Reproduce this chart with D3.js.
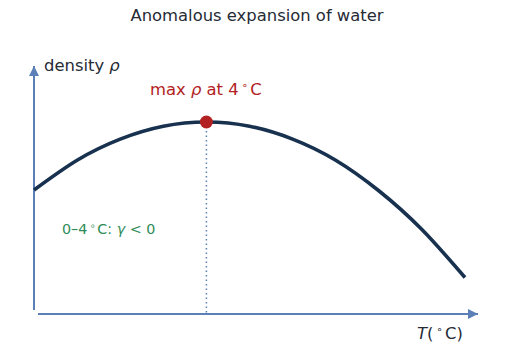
<!DOCTYPE html>
<html><head><meta charset="utf-8">
<script src="https://cdn.jsdelivr.net/npm/d3@7"></script>
<style>body{margin:0;background:#fff}svg{font-family:"DejaVu Sans",sans-serif}</style>
</head><body>
<svg id="c" width="515" height="363"></svg>
<script>
const temps = [0,1,2,3,4,5,6,7,8,9,10];
const density = [0.646,0.801,0.911,0.978,1.0,0.978,0.911,0.801,0.642,0.44,0.19];
const maxT = 4, maxRho = 1.0;
const title = "Anomalous expansion of water";

const svg = d3.select("#c");
const x = d3.scaleLinear().domain([0,10]).range([34,465]);
const y = d3.scaleLinear().domain([0,1]).range([314,122]);
const axisColor = "#5b80b8";

svg.append("defs").append("marker").attr("id","ah").attr("viewBox","0 0 10 10")
  .attr("refX",10).attr("refY",5).attr("markerWidth",12).attr("markerHeight",10)
  .attr("markerUnits","userSpaceOnUse").attr("orient","auto")
  .append("path").attr("d","M0,0L10,5L0,10Z").attr("fill",axisColor);

svg.append("line").attr("x1",34).attr("y1",310).attr("x2",34).attr("y2",66)
  .attr("stroke",axisColor).attr("stroke-width",2).attr("marker-end","url(#ah)");
svg.append("line").attr("x1",38).attr("y1",314).attr("x2",478).attr("y2",314)
  .attr("stroke",axisColor).attr("stroke-width",2).attr("marker-end","url(#ah)");

svg.append("line").attr("x1",x(maxT)).attr("x2",x(maxT)).attr("y1",y(maxRho)).attr("y2",314)
  .attr("stroke",axisColor).attr("stroke-width",1.5).attr("stroke-dasharray","1.5,3");

const line = d3.line().x((d,i)=>x(temps[i])).y(d=>y(d)).curve(d3.curveNatural);
svg.append("path").datum(density).attr("d",line).attr("fill","none")
  .attr("stroke","#17314f").attr("stroke-width",3.6);

svg.append("circle").attr("cx",x(maxT)).attr("cy",y(maxRho)).attr("r",6.5).attr("fill","#b22222");

svg.append("text").attr("x",257).attr("y",21).attr("text-anchor","middle")
  .attr("font-size",16.4).attr("fill","#262b36").text(title);

const t1 = svg.append("text").attr("x",44).attr("y",71).attr("font-size",16.4).attr("fill","#262b36");
t1.append("tspan").text("density ");
t1.append("tspan").attr("font-style","italic").text("ρ");

const t2 = svg.append("text").attr("x",150).attr("y",95).attr("font-size",16.4).attr("fill","#b22222");
t2.append("tspan").text("max ");
t2.append("tspan").attr("font-style","italic").text("ρ");
t2.append("tspan").text(" at 4");
t2.append("tspan").attr("font-size",10.5).attr("dy",-6.5).attr("dx",3).text("∘");
t2.append("tspan").attr("dy",6.5).attr("dx",2).text("C");

const t3 = svg.append("text").attr("x",62).attr("y",234).attr("font-size",14.3).attr("fill","#2e8b57");
t3.append("tspan").text("0–4");
t3.append("tspan").attr("font-size",9.5).attr("dy",-5.5).attr("dx",2.5).text("∘");
t3.append("tspan").attr("dy",5.5).attr("dx",1.5).text("C: ");
t3.append("tspan").attr("font-style","italic").text("γ");
t3.append("tspan").text(" < 0");

const t4 = svg.append("text").attr("x",417).attr("y",339).attr("font-size",16.4).attr("fill","#262b36");
t4.append("tspan").attr("font-style","italic").text("T");
t4.append("tspan").text("(");
t4.append("tspan").attr("font-size",10.5).attr("dy",-6.5).attr("dx",3).text("∘");
t4.append("tspan").attr("dy",6.5).attr("dx",2).text("C)");
</script>
</body></html>
